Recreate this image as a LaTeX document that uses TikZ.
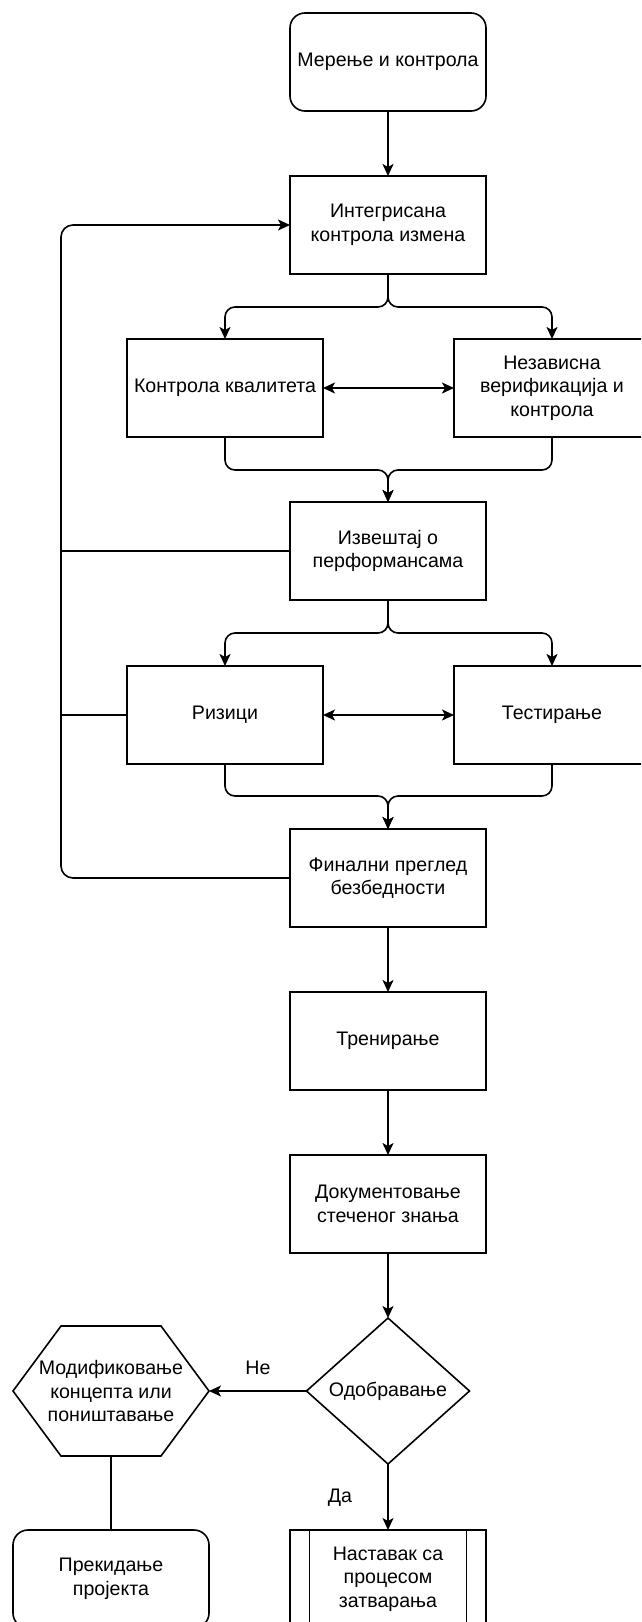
\documentclass[tikz,border=0pt]{standalone}
\usepackage{fontspec}
\setmainfont{Liberation Sans}
\usetikzlibrary{arrows.meta,shapes.geometric,calc}
\begin{document}
\begin{tikzpicture}[x=1pt,y=-1pt,
  every node/.style={font=\fontsize{19.6}{23.5}\selectfont, align=center, inner sep=0pt, outer sep=0pt},
  ln/.style={line width=1.6pt, draw=black},
  box/.style={ln, rectangle, minimum width=196pt, minimum height=98pt},
  rbox/.style={box, rounded corners=15pt},
  plain/.style={rectangle, minimum width=196pt, minimum height=98pt},
  arr/.style={ln, -{Stealth[length=12pt,width=11pt,inset=3pt]}},
  darr/.style={ln, {Stealth[length=12pt,width=11pt,inset=3pt]}-{Stealth[length=12pt,width=11pt,inset=3pt]}},
  conn/.style={ln, rounded corners=10pt},
  lbl/.style={font=\fontsize{19.6}{23.5}\selectfont}
]
\useasboundingbox (0,0) rectangle (641,1622);
\fill[white] (0,0) rectangle (641,1622);
\clip (0,0) rectangle (641,1622);

% nodes
\node[rbox] (n1) at (388,62) {Мерење и контрола};
\node[box] (n2) at (388,225) {Интегрисана\\контрола измена};
\node[box] (n3) at (225,388) {Контрола квалитета};
\node[box] (n4) at (552,388) {Независна\\верификација и\\контрола};
\node[box] (n5) at (388,551) {Извештај о\\перформансама};
\node[box] (n6) at (225,715) {Ризици};
\node[box] (n7) at (552,715) {Тестирање};
\node[box] (n8) at (388,878) {Финални преглед\\безбедности};
\node[box] (n9) at (388,1041) {Тренирање};
\node[box] (n10) at (388,1204) {Документовање\\стеченог знања};
\node[ln, diamond, aspect=1.12, minimum width=163pt, minimum height=146pt] (n11) at (388,1391) {Одобравање};
\node[plain, minimum height=130pt] (n12) at (111,1391) {Модификовање\\концепта или\\поништавање};
\draw[ln, line join=miter] (n12.west) -- ($(n12.north west)+(48,0)$) -- ($(n12.north east)+(-48,0)$) -- (n12.east) -- ($(n12.south east)+(-48,0)$) -- ($(n12.south west)+(48,0)$) -- cycle;
\node[rbox] (n13) at (111,1579) {Прекидање\\пројекта};
\node[box] (n14) at (388,1579) {Наставак са\\процесом\\затварања};
\draw[ln] ($(n14.north west)+(19.5,0)$) -- ($(n14.south west)+(19.5,0)$);
\draw[ln] ($(n14.north east)+(-19.5,0)$) -- ($(n14.south east)+(-19.5,0)$);

% helper coordinates
\coordinate (f1) at (388,307);
\coordinate (m1) at (388,470);
\coordinate (f2) at (388,633);
\coordinate (m2) at (388,796);
\coordinate (fbT) at (61,225);
\coordinate (fbB) at (61,878);
\coordinate (j1) at (61,551);
\coordinate (j2) at (61,715);

% connectors
\draw[arr] (n1.south) -- (n2.north);
\draw[arr, rounded corners=10pt] (n2.south) -- (f1) -| (n3.north);
\draw[arr, rounded corners=10pt] (n2.south) -- (f1) -| (n4.north);
\draw[darr] (n3.east) -- (n4.west);
\draw[arr, rounded corners=10pt] (n3.south) |- (m1) -- (n5.north);
\draw[arr, rounded corners=10pt] (n4.south) |- (m1) -- (n5.north);
\draw[arr, rounded corners=10pt] (n5.south) -- (f2) -| (n6.north);
\draw[arr, rounded corners=10pt] (n5.south) -- (f2) -| (n7.north);
\draw[darr] (n6.east) -- (n7.west);
\draw[arr, rounded corners=10pt] (n6.south) |- (m2) -- (n8.north);
\draw[arr, rounded corners=10pt] (n7.south) |- (m2) -- (n8.north);
\draw[arr, rounded corners=12pt] (n8.west) -- (fbB) -- (fbT) -- (n2.west);
\draw[ln] (n5.west) -- (j1);
\draw[ln] (n6.west) -- (j2);
\draw[arr] (n8.south) -- (n9.north);
\draw[arr] (n9.south) -- (n10.north);
\draw[arr] (n10.south) -- (n11.north);
\draw[arr] (n11.west) -- (n12.east);
\draw[ln] (n12.south) -- (n13.north);
\draw[arr] (n11.south) -- (n14.north);

% labels
\node[lbl] (lne) at (258,1368) {Не};
\node[lbl] (lda) at (340,1498) {Да};
\end{tikzpicture}
\end{document}
